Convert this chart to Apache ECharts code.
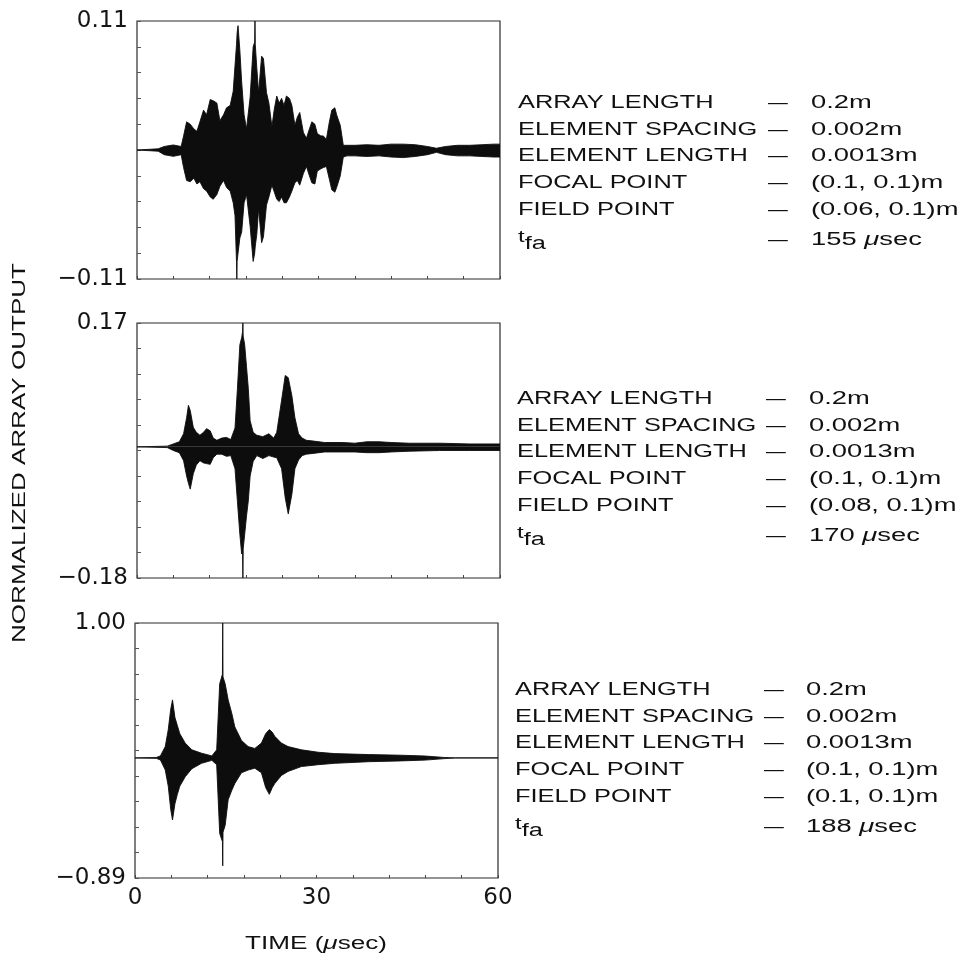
<!DOCTYPE html>
<html>
<head>
<meta charset="utf-8">
<script src="https://cdn.jsdelivr.net/npm/echarts@6/dist/echarts.min.js"></script>
<style>
html,body{margin:0;padding:0;background:#fff;}
#c{width:971px;height:960px;}
</style>
</head>
<body>
<div id="c"></div>
<script>
// ---------------- DATA (envelope of the array output) ----------------
// Panel 1: field point (0.06, 0.1)m
const p1Time  = [0,3.5,4.5,6.0,7.3,7.7,8.2,8.8,9.4,9.9,10.4,11.0,11.5,12.1,12.6,13.2,13.7,14.3,14.8,15.4,15.9,16.2,16.45,16.5,16.55,16.7,17.0,17.3,17.7,18.1,18.7,19.2,19.45,19.5,19.55,19.8,20.1,20.6,20.9,21.4,21.8,22.3,22.7,23.1,23.5,23.9,24.3,24.7,25.2,25.6,26.1,26.5,26.9,27.5,28.0,28.5,28.9,29.4,29.8,30.4,30.8,31.3,31.8,32.2,32.7,33.0,33.6,34.1,34.7,36,38,40,42,44,46,48,49.5,51,53,55,57,59,60];
const p1Upper = [0,0.001,0.003,0.0043,0.003,0.012,0.024,0.022,0.018,0.016,0.024,0.034,0.030,0.043,0.042,0.040,0.025,0.030,0.036,0.038,0.050,0.072,0.090,0.095,0.100,0.106,0.085,0.058,0.030,0.018,0.045,0.088,0.092,0.110,0.090,0.070,0.049,0.080,0.078,0.049,0.040,0.020,0.035,0.046,0.040,0.044,0.038,0.046,0.044,0.038,0.021,0.028,0.032,0.015,0.010,0.018,0.024,0.022,0.014,0.012,0.012,0.009,0.024,0.034,0.036,0.030,0.021,0.004,0.004,0.004,0.0045,0.004,0.005,0.005,0.0045,0.003,0.0015,0.003,0.004,0.004,0.0045,0.005,0.005];
const p1Lower = [0,-0.001,-0.004,-0.0054,-0.004,-0.015,-0.026,-0.027,-0.024,-0.029,-0.027,-0.033,-0.035,-0.040,-0.042,-0.038,-0.031,-0.026,-0.032,-0.035,-0.045,-0.056,-0.096,-0.110,-0.095,-0.088,-0.075,-0.070,-0.045,-0.038,-0.065,-0.095,-0.088,-0.085,-0.082,-0.072,-0.050,-0.079,-0.074,-0.047,-0.040,-0.030,-0.036,-0.042,-0.044,-0.040,-0.045,-0.045,-0.040,-0.035,-0.028,-0.026,-0.030,-0.020,-0.014,-0.022,-0.028,-0.029,-0.018,-0.016,-0.015,-0.014,-0.025,-0.034,-0.036,-0.032,-0.022,-0.006,-0.005,-0.005,-0.0055,-0.005,-0.006,-0.0065,-0.0055,-0.004,-0.002,-0.004,-0.005,-0.005,-0.0055,-0.006,-0.006];

// Panel 2: field point (0.08, 0.1)m
const p2Time  = [0,5.0,6.0,7.0,7.7,8.2,8.5,8.8,9.3,9.8,10.4,11.0,11.5,12.1,12.6,13.2,14.0,14.8,15.5,16.2,16.6,17.0,17.3,17.45,17.5,17.55,17.8,18.1,18.4,18.7,19.2,19.8,20.8,21.8,22.6,23.1,23.9,24.5,25.0,25.6,26.1,26.7,27.3,28.0,29.1,31,34,36,38,40,42,45,50,55,60];
const p2Upper = [0,0.001,0.004,0.007,0.018,0.040,0.057,0.050,0.027,0.020,0.016,0.020,0.025,0.022,0.012,0.009,0.012,0.013,0.010,0.026,0.080,0.140,0.150,0.158,0.170,0.152,0.140,0.110,0.080,0.036,0.020,0.016,0.014,0.018,0.012,0.020,0.064,0.098,0.095,0.070,0.040,0.018,0.012,0.009,0.008,0.006,0.006,0.005,0.007,0.007,0.006,0.005,0.005,0.004,0.004];
const p2Lower = [0,-0.001,-0.005,-0.008,-0.019,-0.040,-0.050,-0.058,-0.037,-0.025,-0.019,-0.022,-0.023,-0.024,-0.015,-0.010,-0.010,-0.013,-0.012,-0.030,-0.075,-0.120,-0.147,-0.140,-0.180,-0.140,-0.120,-0.095,-0.074,-0.040,-0.020,-0.012,-0.016,-0.012,-0.014,-0.015,-0.030,-0.070,-0.092,-0.065,-0.030,-0.018,-0.012,-0.010,-0.009,-0.007,-0.007,-0.007,-0.008,-0.008,-0.007,-0.006,-0.005,-0.005,-0.005];

// Panel 3: field point = focal point (0.1, 0.1)m
const p3Time  = [0,3.5,4.2,5.0,5.5,5.9,6.2,6.6,7.0,7.4,8.3,9.4,11.0,12.7,13.5,14.0,14.45,14.5,14.55,14.9,15.4,16.0,16.5,17.6,18.7,19.8,20.9,21.6,22.2,22.7,23.1,24.2,25.3,27.5,30.3,33,38.6,44,48,51.2,53,60];
const p3Upper = [0,0.003,0.015,0.084,0.21,0.36,0.43,0.30,0.24,0.18,0.11,0.06,0.035,0.015,0.06,0.55,0.62,1.00,0.60,0.55,0.43,0.33,0.23,0.13,0.084,0.07,0.11,0.18,0.21,0.19,0.16,0.11,0.084,0.06,0.042,0.032,0.025,0.02,0.014,0.003,0,0];
const p3Lower = [0,-0.003,-0.015,-0.089,-0.21,-0.38,-0.46,-0.34,-0.27,-0.21,-0.14,-0.08,-0.04,-0.018,-0.05,-0.56,-0.62,-0.80,-0.55,-0.50,-0.31,-0.24,-0.19,-0.11,-0.09,-0.076,-0.11,-0.22,-0.27,-0.22,-0.19,-0.13,-0.10,-0.064,-0.05,-0.04,-0.028,-0.022,-0.016,-0.005,0,0];

// Axis ranges and tick labels
const yMin = [-0.11, -0.18, -0.89];
const yMax = [0.11, 0.17, 1.00];
const xTickLabels = [0, 30, 60];

// Parameter text blocks
const paramNames = ['ARRAY LENGTH', 'ELEMENT SPACING', 'ELEMENT LENGTH', 'FOCAL POINT', 'FIELD POINT'];
const paramValues = [
  ['0.2m', '0.002m', '0.0013m', '(0.1, 0.1)m', '(0.06, 0.1)m'],
  ['0.2m', '0.002m', '0.0013m', '(0.1, 0.1)m', '(0.08, 0.1)m'],
  ['0.2m', '0.002m', '0.0013m', '(0.1, 0.1)m', '(0.1, 0.1)m']
];
const tfaValues = ['155', '170', '188'];

// ---------------- LAYOUT ----------------
const grids = [
  {left: 137, top: 21, width: 363, height: 258},
  {left: 137, top: 323, width: 363, height: 255},
  {left: 135, top: 623, width: 363, height: 255}
];
const textRowStart = [103, 399, 690];
const textLabelX = [518, 517, 515];
const textDashX = [768, 766, 764];
const textValueX = [811, 809, 806];
const ROW = 26.75;
const TFA_GAP = 30;
const SX = 1.41;
const SXV = 1.52;
const FONT = '"Liberation Sans", Arial, Helvetica, sans-serif';

const panels = [
  {time: p1Time, upper: p1Upper, lower: p1Lower},
  {time: p2Time, upper: p2Upper, lower: p2Lower},
  {time: p3Time, upper: p3Upper, lower: p3Lower}
];

function fmtY(v) {
  return (v < 0 ? '\u2212' : '') + Math.abs(v).toFixed(2);
}

const xAxis = grids.map((g, i) => ({
  type: 'value', gridIndex: i, position: 'bottom', min: 0, max: 60, interval: 6,
  axisLine: {show: false, onZero: false},
  axisTick: {show: true, inside: true, length: 3, lineStyle: {color: '#444', width: 1}},
  splitLine: {show: false},
  axisLabel: {
    show: i === 2, margin: 9, fontSize: 23, fontFamily: 'DejaVu Sans', color: '#151515',
    formatter: v => (xTickLabels.indexOf(v) >= 0 ? String(v) : '')
  }
}));

const yAxisMain = grids.map((g, i) => ({
  type: 'value', gridIndex: i, position: 'left', min: yMin[i], max: yMax[i],
  axisLine: {show: false, onZero: false}, axisTick: {show: false}, splitLine: {show: false},
  axisLabel: {
    show: true, margin: 9, fontSize: 23, fontFamily: 'DejaVu Sans', color: '#151515',
    showMinLabel: true, showMaxLabel: true,
    formatter: v => (Math.abs(v - yMin[i]) < 1e-9 || Math.abs(v - yMax[i]) < 1e-9) ? fmtY(v) : ''
  }
}));
const yAxisTicks = grids.map((g, i) => ({
  type: 'value', gridIndex: i, position: 'left', min: 0, max: 10, interval: 1,
  axisLine: {show: false, onZero: false}, splitLine: {show: false}, axisLabel: {show: false},
  axisTick: {show: true, inside: true, length: 4, lineStyle: {color: '#555', width: 1}}
}));

const series = [];
panels.forEach((p, i) => {
  [p.upper, p.lower].forEach(arr => {
    series.push({
      type: 'line', xAxisIndex: i, yAxisIndex: i,
      data: p.time.map((t, k) => [t, arr[k]]),
      symbol: 'none', showSymbol: false, silent: true,
      lineStyle: {color: '#0d0d0d', width: 0.9},
      areaStyle: {color: '#0d0d0d', opacity: 1},
      z: 2
    });
  });
});

const graphic = [];
function txt(x, y, text, opt) {
  opt = opt || {};
  const style = {
    text: text, fontSize: opt.size || 18, fontFamily: FONT, fill: '#111',
    align: opt.align || 'left', textAlign: opt.align || 'left',
    verticalAlign: 'middle', textVerticalAlign: 'middle'
  };
  if (opt.rich) style.rich = opt.rich;
  graphic.push({
    type: 'text', x: x, y: y, rotation: opt.rotation || 0,
    scaleX: opt.sx || SX, scaleY: 1, silent: true, style: style
  });
}
const richMu = {i: {fontStyle: 'italic', fontSize: 18, fontFamily: FONT}};

for (let i = 0; i < 3; i++) {
  for (let r = 0; r < paramNames.length; r++) {
    const y = textRowStart[i] + r * ROW;
    txt(textLabelX[i], y, paramNames[r]);
    txt(textDashX[i], y, '\u2014', {sx: 1.1});
    txt(textValueX[i], y, paramValues[i][r], {sx: SXV});
  }
  const yt = textRowStart[i] + 4 * ROW + TFA_GAP;
  txt(textLabelX[i], yt - 2, '{t|t}{s|fa}', {
    rich: {
      t: {fontSize: 17, fontFamily: FONT, verticalAlign: 'top', lineHeight: 18},
      s: {fontSize: 18, fontFamily: FONT, lineHeight: 18, padding: [12, 0, 0, 0]}
    }
  });
  txt(textDashX[i], yt, '\u2014', {sx: 1.1});
  txt(textValueX[i], yt, tfaValues[i] + ' {i|\u03bc}sec', {rich: richMu, sx: SXV});
}
// axis titles
txt(20, 453, 'NORMALIZED ARRAY OUTPUT', {rotation: Math.PI / 2, align: 'center', size: 19, sx: 1.37});
txt(316, 944, 'TIME ({i|\u03bc}sec)', {align: 'center', rich: richMu, sx: 1.45});

const option = {
  animation: false,
  backgroundColor: '#ffffff',
  grid: grids.map(g => Object.assign({}, g, {
    show: true, borderColor: '#2a2a2a', borderWidth: 1.2, backgroundColor: 'transparent',
    containLabel: false, outerBoundsMode: 'none'
  })),
  xAxis: xAxis,
  yAxis: yAxisMain.concat(yAxisTicks),
  series: series,
  graphic: graphic
};

const chart = echarts.init(document.getElementById('c'), null, {renderer: 'canvas'});
chart.setOption(option);
</script>
</body>
</html>
